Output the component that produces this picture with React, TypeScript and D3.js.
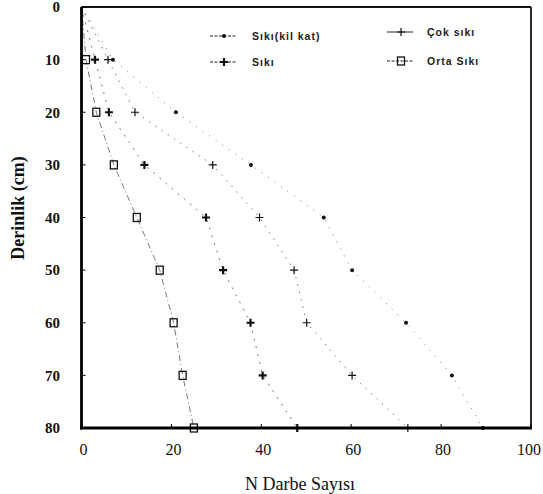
import { useEffect, useRef } from "react";
import * as d3 from "d3";

const depths = [0, 10, 20, 30, 40, 50, 60, 70, 80];
const kilKat = [0, 7, 21, 37.7, 53.9, 60.2, 72.2, 82.4, 89.3];
const siki = [0, 3, 6.1, 14, 27.7, 31.5, 37.6, 40.3, 48];
const cokSiki = [0, 5.9, 11.9, 29.2, 39.6, 47.3, 50.1, 60.2, 72.6];
const ortaSiki = [0, 1, 3.3, 7.2, 12.3, 17.4, 20.5, 22.5, 25];
const xTicks = [0, 20, 40, 60, 80, 100];
const yTicks = [0, 10, 20, 30, 40, 50, 60, 70, 80];

type Marker = "dot" | "star" | "plus" | "square";

export default function App() {
  const ref = useRef<SVGSVGElement | null>(null);

  useEffect(() => {
    if (!ref.current) return;
    const width = 543;
    const height = 494;
    const svg = d3.select(ref.current).attr("width", width).attr("height", height);
    svg.selectAll("*").remove();

    const x = d3.scaleLinear().domain([0, 100]).range([81.5, 531]);
    const y = d3.scaleLinear().domain([0, 80]).range([7, 428]);

    const series: { name: string; values: number[]; marker: Marker; dash: string }[] = [
      { name: "Sıkı(kil kat)", values: kilKat, marker: "dot", dash: "1,7" },
      { name: "Sıkı", values: siki, marker: "star", dash: "2,6" },
      { name: "Çok sıkı", values: cokSiki, marker: "plus", dash: "1.5,6" },
      { name: "Orta Sıkı", values: ortaSiki, marker: "square", dash: "6,3,1,3" },
    ];

    const drawMarker = (g: d3.Selection<SVGGElement, unknown, null, undefined>, m: Marker, cx: number, cy: number) => {
      if (m === "dot") {
        g.append("circle").attr("cx", cx).attr("cy", cy).attr("r", 2).attr("fill", "#111");
      } else if (m === "star") {
        g.append("path")
          .attr("d", `M${cx - 4},${cy}H${cx + 4}M${cx},${cy - 4}V${cy + 4}`)
          .attr("stroke", "#111").attr("stroke-width", 2.2);
      } else if (m === "plus") {
        g.append("path")
          .attr("d", `M${cx - 4},${cy}H${cx + 4}M${cx},${cy - 4}V${cy + 4}`)
          .attr("stroke", "#111").attr("stroke-width", 1.2);
      } else {
        g.append("rect")
          .attr("x", cx - 3.5).attr("y", cy - 4).attr("width", 7).attr("height", 8)
          .attr("fill", "none").attr("stroke", "#111").attr("stroke-width", 1.3);
      }
    };

    const line = d3.line<number>().x((d) => x(d)).y((_, i) => y(depths[i]));

    const plot = svg.append("g");
    series.forEach((s) => {
      plot.append("path")
        .attr("d", line(s.values) as string)
        .attr("fill", "none")
        .attr("stroke", "#555")
        .attr("stroke-width", 0.8)
        .attr("stroke-dasharray", s.dash);
      s.values.forEach((v, i) => {
        if (i === 0) return;
        drawMarker(plot, s.marker, x(v), y(depths[i]));
      });
    });

    // frame
    const [x0, x1] = x.range();
    const [y0, y1] = y.range();
    svg.append("line").attr("x1", x0).attr("x2", x1).attr("y1", y0).attr("y2", y0)
      .attr("stroke", "#111").attr("stroke-width", 1.8);
    svg.append("line").attr("x1", x1).attr("x2", x1).attr("y1", y0).attr("y2", y1)
      .attr("stroke", "#111").attr("stroke-width", 1.8);
    svg.append("line").attr("x1", x0).attr("x2", x0).attr("y1", y0).attr("y2", y1 + 1.5)
      .attr("stroke", "#000").attr("stroke-width", 2.8);
    svg.append("line").attr("x1", x0 - 1.4).attr("x2", x1 + 1).attr("y1", y1).attr("y2", y1)
      .attr("stroke", "#000").attr("stroke-width", 2.8);

    // ticks
    yTicks.forEach((t) => {
      svg.append("line").attr("x1", x0).attr("x2", x0 + 4).attr("y1", y(t)).attr("y2", y(t))
        .attr("stroke", "#000").attr("stroke-width", 1);
      svg.append("text")
        .attr("x", 60).attr("y", y(t)).attr("dy", "0.35em")
        .attr("text-anchor", "end")
        .attr("font-family", "Liberation Serif, serif")
        .attr("font-weight", "bold").attr("font-size", 15)
        .attr("fill", "#111")
        .text(t);
    });
    xTicks.forEach((t) => {
      svg.append("line").attr("x1", x(t)).attr("x2", x(t)).attr("y1", y1).attr("y2", y1 - 4)
        .attr("stroke", "#000").attr("stroke-width", 1);
      const last = t === xTicks[xTicks.length - 1];
      svg.append("text")
        .attr("x", last ? width - 2 : x(t) + 2).attr("y", 455)
        .attr("text-anchor", last ? "end" : "middle")
        .attr("font-family", "Liberation Serif, serif")
        .attr("font-size", 16)
        .attr("fill", "#111")
        .text(t);
    });

    // axis titles
    svg.append("text")
      .attr("x", 300).attr("y", 490)
      .attr("text-anchor", "middle")
      .attr("font-family", "Liberation Serif, serif")
      .attr("font-size", 18)
      .attr("fill", "#111")
      .text("N Darbe Sayısı");
    svg.append("text")
      .attr("transform", "translate(24,208) rotate(-90)")
      .attr("text-anchor", "middle")
      .attr("font-family", "Liberation Serif, serif")
      .attr("font-weight", "bold")
      .attr("font-size", 18)
      .attr("fill", "#111")
      .text("Derinlik (cm)");

    // legend
    const legendPos = [
      { lx: 210, tx: 252, ly: 36 },
      { lx: 210, tx: 252, ly: 62 },
      { lx: 387, tx: 427, ly: 32 },
      { lx: 387, tx: 427, ly: 61 },
    ];
    const legend = svg.append("g");
    series.forEach((s, i) => {
      const p = legendPos[i];
      legend.append("line")
        .attr("x1", p.lx).attr("x2", p.lx + 26).attr("y1", p.ly).attr("y2", p.ly)
        .attr("stroke", "#222").attr("stroke-width", 1)
        .attr("stroke-dasharray", i === 2 ? null : "3,1.5");
      const g = legend.append("g");
      drawMarker(g, s.marker, p.lx + 14, p.ly);
      legend.append("text")
        .attr("x", p.tx).attr("y", p.ly).attr("dy", "0.35em")
        .attr("font-family", "Liberation Sans, sans-serif")
        .attr("font-weight", "bold").attr("font-size", 10.5)
        .attr("letter-spacing", 1)
        .attr("fill", "#222")
        .text(s.name);
    });
  }, []);

  return (
    <svg
      ref={(el) => { if (el) ref.current = el; }}
      style={{ position: "absolute", left: 0, top: 0, background: "#fff" }}
    />
  );
}
